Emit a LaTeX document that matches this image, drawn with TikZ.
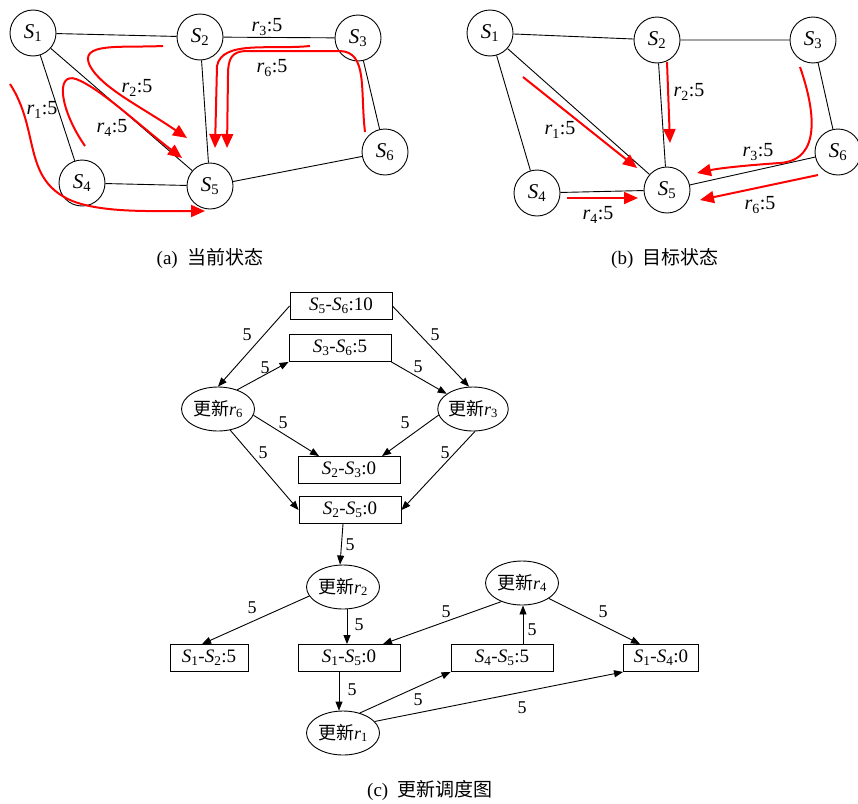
\documentclass[tikz,border=0pt]{standalone}
\usepackage{fontspec}
\setmainfont{Liberation Serif}
\newfontfamily\cjk{Noto Sans CJK SC}
\usetikzlibrary{shapes.geometric, arrows.meta}
\newcommand{\sv}[2]{\textit{#1}\textsubscript{#2}}

\begin{document}
\begin{tikzpicture}[x=1pt, y=-1pt,
  stn/.style={circle, draw, line width=0.9pt, minimum size=46pt, inner sep=0pt, font=\fontsize{21}{23}\selectfont},
  lnk/.style={line width=0.9pt},
  mv/.style={red, line width=2pt, -{Triangle[length=14pt, width=12pt]}},
  rlbl/.style={font=\fontsize{20}{22}\selectfont},
  tsk/.style={rectangle, draw, line width=0.9pt, minimum width=102pt, minimum height=27pt, inner sep=0pt, font=\fontsize{19}{21}\selectfont},
  upd/.style={ellipse, draw, line width=0.9pt, minimum width=73pt, minimum height=44pt, inner sep=0pt, font=\fontsize{18}{20}\selectfont},
  dep/.style={line width=0.9pt, -{Triangle[length=9pt, width=7pt]}},
  wt/.style={font=\fontsize{18}{20}\selectfont},
  captxt/.style={font=\fontsize{19}{21}\selectfont}
]
\useasboundingbox (0,0) rectangle (858,803);

% (a) current state -- switches
\node[stn] (a1) at (33,33) {\sv{S}{1}};
\node[stn] (a2) at (200,37) {\sv{S}{2}};
\node[stn] (a3) at (358,38) {\sv{S}{3}};
\node[stn] (a4) at (82,183) {\sv{S}{4}};
\node[stn] (a5) at (210,186) {\sv{S}{5}};
\node[stn] (a6) at (385,152) {\sv{S}{6}};
\draw[lnk] (a1) -- (a2) (a2) -- (a3) (a1) -- (a4) (a1) -- (a5)
           (a2) -- (a5) (a3) -- (a6) (a4) -- (a5) (a5) -- (a6);
% (a) flows
\draw[mv] (10,84) .. controls (40,130) and (22,178) .. (70,200) .. controls (100,213) and (150,211) .. (205,211);   % r1
\draw[mv] (163,46) .. controls (120,48) and (78,42) .. (90,66) .. controls (102,88) and (140,106) .. (187,138);     % r2
\draw[mv] (310,46) .. controls (270,50) and (222,40) .. (217,66) -- (215,148);                                      % r3
\draw[mv] (85,146) .. controls (60,110) and (55,72) .. (76,79) .. controls (100,88) and (140,126) .. (182,158);     % r4
\draw[mv] (365,132) .. controls (360,90) and (368,52) .. (340,51) -- (245,51) .. controls (232,52) and (228,58) .. (228,75) -- (227,148); % r6
\node[rlbl] (ar1) at (42,110) {\sv{r}{1}:5};
\node[rlbl] (ar2) at (137,88) {\sv{r}{2}:5};
\node[rlbl] (ar3) at (267,27) {\sv{r}{3}:5};
\node[rlbl] (ar4) at (112,128) {\sv{r}{4}:5};
\node[rlbl] (ar6) at (272,68) {\sv{r}{6}:5};
\node[captxt] (capa) at (210,258) {(a)\enspace{\cjk 当前状态}};

% (b) target state -- switches
\node[stn] (b1) at (490,33) {\sv{S}{1}};
\node[stn] (b2) at (657,40) {\sv{S}{2}};
\node[stn] (b3) at (813,40) {\sv{S}{3}};
\node[stn] (b4) at (537,193) {\sv{S}{4}};
\node[stn] (b5) at (667,190) {\sv{S}{5}};
\node[stn] (b6) at (838,152) {\sv{S}{6}};
\draw[lnk] (b1) -- (b2) (b2) -- (b3) (b1) -- (b4) (b1) -- (b5)
           (b2) -- (b5) (b3) -- (b6) (b4) -- (b5) (b5) -- (b6);
% (b) flows
\draw[mv] (523,77) -- (637,168);   % r1
\draw[mv] (667,62) -- (670,143);   % r2
\draw[mv] (800,67) .. controls (815,110) and (822,160) .. (780,163) .. controls (750,165) and (720,168) .. (697,173); % r3
\draw[mv] (567,198) -- (638,198);  % r4
\draw[mv] (818,175) -- (700,200);  % r6
\node[rlbl] (br1) at (560,130) {\sv{r}{1}:5};
\node[rlbl] (br2) at (689,92) {\sv{r}{2}:5};
\node[rlbl] (br3) at (758,152) {\sv{r}{3}:5};
\node[rlbl] (br4) at (598,215) {\sv{r}{4}:5};
\node[rlbl] (br6) at (760,205) {\sv{r}{6}:5};
\node[captxt] (capb) at (665,258) {(b)\enspace{\cjk 目标状态}};

% (c) update schedule -- link tasks and updates
\node[tsk] (s56) at (341,306) {\sv{S}{5}-\sv{S}{6}:10};
\node[tsk] (s36) at (340,348) {\sv{S}{3}-\sv{S}{6}:5};
\node[upd] (u6) at (218,409) {{\cjk 更新}\sv{r}{6}};
\node[upd, minimum width=66pt] (u3) at (473,409) {{\cjk 更新}\sv{r}{3}};
\node[tsk] (s23) at (349,470) {\sv{S}{2}-\sv{S}{3}:0};
\node[tsk] (s25) at (350,510) {\sv{S}{2}-\sv{S}{5}:0};
\node[upd] (u2) at (343,587) {{\cjk 更新}\sv{r}{2}};
\node[upd] (u4) at (522,583) {{\cjk 更新}\sv{r}{4}};
\node[tsk, minimum width=78pt] (s12) at (209,658) {\sv{S}{1}-\sv{S}{2}:5};
\node[tsk] (s15) at (349,658) {\sv{S}{1}-\sv{S}{5}:0};
\node[tsk] (s45) at (502,658) {\sv{S}{4}-\sv{S}{5}:5};
\node[tsk, minimum width=75pt] (s14) at (661,658) {\sv{S}{1}-\sv{S}{4}:0};
\node[upd] (u1) at (343,733) {{\cjk 更新}\sv{r}{1}};
% dependencies
\draw[dep] (s56.west) -- (u6.north);
\draw[dep] (s56.east) -- (u3.100);
\draw[dep] (u6.45) -- (s36.south west);
\draw[dep] (s36.south east) -- (u3.150);
\draw[dep] (u6.-10) -- ([xshift=-30pt]s23.north);
\draw[dep] (u3.190) -- ([xshift=33pt]s23.north);
\draw[dep] (u6.-60) -- (s25.west);
\draw[dep] (u3.-85) -- (s25.east);
\draw[dep] ([xshift=-7pt]s25.south) -- ([xshift=-3pt]u2.north);
\draw[dep] (u2.195) -- ([xshift=-7pt]s12.north);
\draw[dep] ([xshift=4pt]u2.south) -- ([xshift=-2pt]s15.north);
\draw[dep] (u4.222) -- ([xshift=34pt]s15.north);
\draw[dep] ([xshift=21pt]s45.north) -- ([xshift=1pt]u4.south);
\draw[dep] (u4.-30) -- ([xshift=-21pt]s14.north);
\draw[dep] ([xshift=-10pt]s15.south) -- ([xshift=-4pt]u1.north);
\draw[dep] (u1.50) -- (s45.south west);
\draw[dep] (u1.20) -- (s14.south west);
% weights
\node[wt] (w1) at (247,335) {5};
\node[wt] (w2) at (435,335) {5};
\node[wt] (w3) at (265,368) {5};
\node[wt] (w4) at (418,367) {5};
\node[wt] (w5) at (283,423) {5};
\node[wt] (w6) at (405,423) {5};
\node[wt] (w7) at (263,453) {5};
\node[wt] (w8) at (445,453) {5};
\node[wt] (w9) at (350,545) {5};
\node[wt] (w10) at (252,608) {5};
\node[wt] (w11) at (359,625) {5};
\node[wt] (w12) at (446,612) {5};
\node[wt] (w13) at (532,630) {5};
\node[wt] (w14) at (603,612) {5};
\node[wt] (w15) at (352,690) {5};
\node[wt] (w16) at (418,700) {5};
\node[wt] (w17) at (522,708) {5};
\node[captxt] (capc) at (430,790) {(c)\enspace{\cjk 更新调度图}};
\end{tikzpicture}
\end{document}
